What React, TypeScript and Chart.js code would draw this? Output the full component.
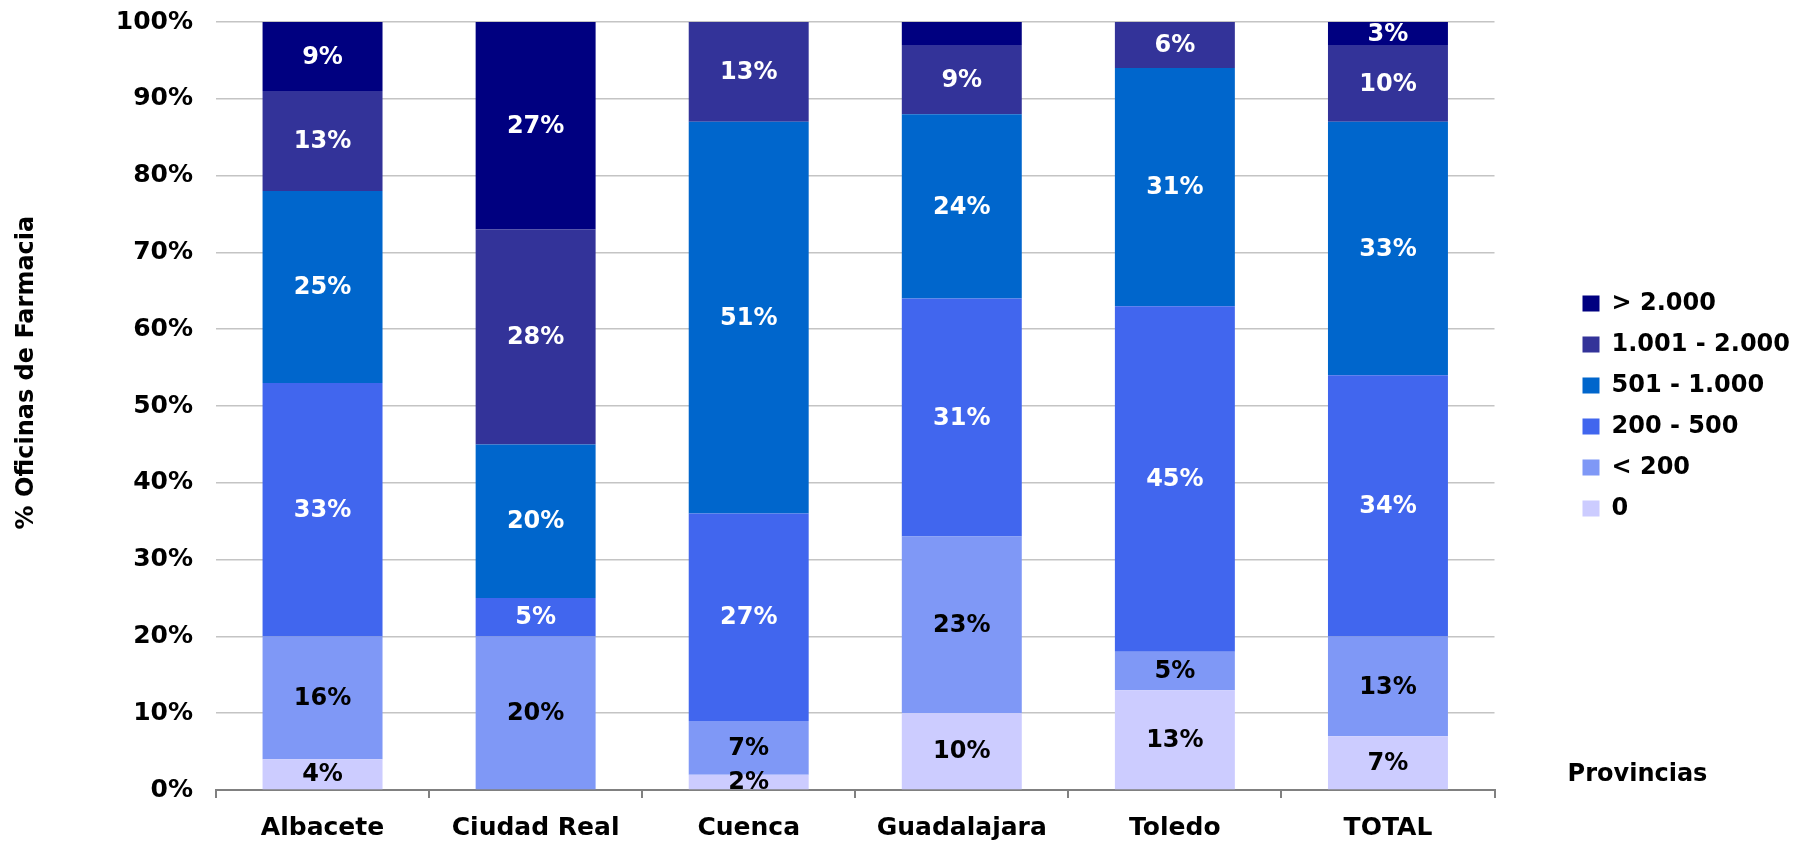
import React, { useEffect, useRef } from "react";
import { Chart, registerables } from "chart.js";

Chart.register(...registerables);

const provinces = ["Albacete", "Ciudad Real", "Cuenca", "Guadalajara", "Toledo", "TOTAL"];

const seriesNames = ["0", "< 200", "200 - 500", "501 - 1.000", "1.001 - 2.000", "> 2.000"];
const seriesColors = ["#CCCCFF", "#7F98F6", "#4166EE", "#0066CC", "#333399", "#000080"];
const labelColors = ["#000000", "#000000", "#FFFFFF", "#FFFFFF", "#FFFFFF", "#FFFFFF"];

// percentage of pharmacies per population band, per province
const zeroValues = [4, 0, 2, 10, 13, 7];
const under200Values = [16, 20, 7, 23, 5, 13];
const from200to500Values = [33, 5, 27, 31, 45, 34];
const from501to1000Values = [25, 20, 51, 24, 31, 33];
const from1001to2000Values = [13, 28, 13, 9, 6, 10];
const over2000Values = [9, 27, 0, 3, 0, 3];

// [datasetIndex, categoryIndex] labels not shown in the original
const hiddenLabels: [number, number][] = [[5, 3]];

const yTicks = [0, 10, 20, 30, 40, 50, 60, 70, 80, 90, 100];
const yTitle = "% Oficinas de Farmacia";
const xTitle = "Provincias";

const FONT = "'DejaVu Sans', Verdana, sans-serif";

export default function App() {
  const canvasRef = useRef<HTMLCanvasElement | null>(null);

  useEffect(() => {
    document.body.style.margin = "0";
    const canvas = canvasRef.current;
    if (!canvas) return;

    const allValues = [
      zeroValues,
      under200Values,
      from200to500Values,
      from501to1000Values,
      from1001to2000Values,
      over2000Values,
    ];

    const valueLabels = {
      id: "valueLabels",
      afterDatasetsDraw(chart: any) {
        const ctx = chart.ctx;
        ctx.save();
        ctx.font = `bold 24px ${FONT}`;
        ctx.textAlign = "center";
        ctx.textBaseline = "middle";
        chart.data.datasets.forEach((ds: any, di: number) => {
          const meta = chart.getDatasetMeta(di);
          meta.data.forEach((el: any, ci: number) => {
            const v = ds.data[ci];
            if (!v) return;
            if (hiddenLabels.some(([a, b]) => a === di && b === ci)) return;
            ctx.fillStyle = labelColors[di];
            ctx.fillText(`${v}%`, el.x, (el.y + el.base) / 2 + 1);
          });
        });
        ctx.restore();
      },
    };

    const sideTitle = {
      id: "sideTitle",
      afterDraw(chart: any) {
        const ctx = chart.ctx;
        const area = chart.chartArea;
        ctx.save();
        ctx.font = `bold 24px ${FONT}`;
        ctx.fillStyle = "#000000";
        ctx.textAlign = "center";
        ctx.textBaseline = "middle";
        ctx.fillText(xTitle, area.right + 143, area.bottom - 15);
        ctx.restore();
      },
    };

    Chart.defaults.font.family = FONT;
    Chart.defaults.font.size = 24;
    Chart.defaults.font.weight = "bold";
    Chart.defaults.color = "#000000";

    const chart = new Chart(canvas, {
      type: "bar",
      data: {
        labels: provinces,
        datasets: allValues.map((vals, i) => ({
          label: seriesNames[i],
          data: vals,
          backgroundColor: seriesColors[i],
          borderWidth: 0,
          barPercentage: 0.563,
          categoryPercentage: 1,
          yAxisID: "y",
        })),
      },
      options: {
        responsive: false,
        animation: false,
        layout: { padding: { top: 22, right: 2, bottom: 0, left: 0 } },
        plugins: {
          tooltip: { enabled: false },
          legend: {
            position: "right",
            fullSize: false,
            reverse: true,
            labels: {
              boxWidth: 17,
              boxHeight: 16,
              padding: 17,
              color: "#000000",
              font: { family: FONT, size: 24, weight: "bold" },
            },
          },
        },
        scales: {
          x: {
            stacked: true,
            grid: {
              display: true,
              drawOnChartArea: false,
              drawTicks: true,
              tickLength: 8,
              color: "#808080",
              lineWidth: 2,
              offset: true,
            },
            border: { display: true, color: "#808080", width: 2 },
            ticks: {
              padding: 15,
              maxRotation: 0,
              autoSkip: false,
              color: "#000000",
              font: { family: FONT, size: 25, weight: "bold" },
            },
            afterFit: (s: any) => {
              s.height = 52;
            },
          },
          y: {
            stacked: true,
            min: 0,
            max: 100,
            afterBuildTicks: (s: any) => {
              s.ticks = yTicks.map((v) => ({ value: v }));
            },
            grid: {
              color: "#C4C4C4",
              lineWidth: 1.5,
              drawTicks: false,
            },
            border: { display: false },
            ticks: {
              padding: 23,
              color: "#000000",
              font: { family: FONT, size: 25, weight: "bold" },
              callback: (v: any) => `${v}%`,
            },
            title: {
              display: true,
              text: "        " + yTitle,
              color: "#000000",
              font: { family: FONT, size: 24, weight: "bold" },
              padding: { top: 12, bottom: 0 },
            },
            afterFit: (s: any) => {
              s.width = 216;
              s.paddingTop = 0;
              s.paddingBottom = 0;
            },
          },
          gap: {
            type: "linear",
            position: "right",
            display: true,
            grid: { display: false },
            border: { display: false },
            ticks: { display: false },
            afterFit: (s: any) => {
              s.width = 71;
              s.paddingTop = 0;
              s.paddingBottom = 0;
            },
          },
        },
      },
      plugins: [valueLabels, sideTitle],
    });

    return () => chart.destroy();
  }, []);

  return (
    <div style={{ width: 1802, height: 842, overflow: "hidden" }}>
      <style>{"body{margin:0}"}</style>
      <canvas ref={canvasRef} width={1802} height={842} style={{ display: "block" }} />
    </div>
  );
}
